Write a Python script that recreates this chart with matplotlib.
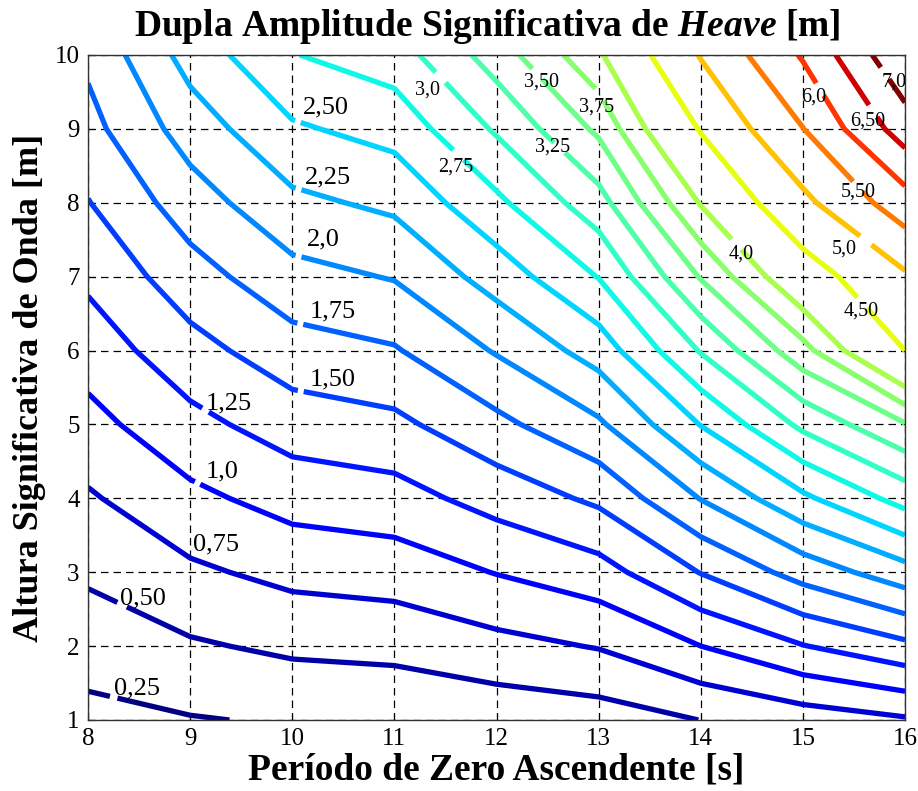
import matplotlib
matplotlib.use("Agg")
import matplotlib.pyplot as plt
import numpy as np
from matplotlib.colors import Normalize

plt.rcParams['font.family'] = ['Liberation Serif', 'DejaVu Serif']
plt.rcParams['mathtext.fontset'] = 'custom'
plt.rcParams['mathtext.it'] = 'Liberation Serif:bold:italic'
plt.rcParams['mathtext.rm'] = 'Liberation Serif:bold'

# periodo de zero ascendente [s] and altura significativa [m]
periodo = [8, 9, 10, 11, 12, 13, 14, 15, 16]
altura = [1, 2, 3, 4, 5, 6, 7, 8, 9, 10]

# dupla amplitude significativa de heave [m], rows = altura, cols = periodo
heave = [
    [0.18, 0.235, 0.274, 0.288, 0.337, 0.38, 0.503, 0.62, 0.72],
    [0.36, 0.47, 0.548, 0.576, 0.674, 0.765, 1.00, 1.24, 1.44],
    [0.54, 0.705, 0.822, 0.864, 1.01, 1.15, 1.51, 1.85, 2.15],
    [0.72, 0.94, 1.096, 1.152, 1.348, 1.55, 2.01, 2.45, 2.85],
    [0.92, 1.175, 1.37, 1.44, 1.685, 1.96, 2.51, 3.06, 3.48],
    [1.11, 1.41, 1.644, 1.728, 2.022, 2.36, 3.02, 3.66, 4.50],
    [1.30, 1.645, 1.918, 2.016, 2.359, 2.76, 3.52, 4.27, 4.93],
    [1.49, 1.88, 2.192, 2.304, 2.696, 3.15, 4.02, 4.88, 5.78],
    [1.67, 2.115, 2.466, 2.592, 3.033, 3.55, 4.53, 5.49, 6.75],
    [1.80, 2.35, 2.74, 2.88, 3.37, 3.95, 5.03, 6.05, 7.45],
]

niveis = [0.25, 0.5, 0.75, 1.0, 1.25, 1.5, 1.75, 2.0, 2.25, 2.5, 2.75, 3.0,
          3.25, 3.5, 3.75, 4.0, 4.5, 5.0, 5.5, 6.0, 6.5, 7.0]

# labels: level, text, gap point on line, text position, font size, gap size
rotulos = [
    (0.25, "0,25", (8.25, 1.30), (8.48, 1.43), 19, 4),
    (0.5, "0,50", (8.32, 2.52), (8.54, 2.64), 19, 6),
    (0.75, "0,75", None, (9.25, 3.38), 19, 0),
    (1.0, "1,0", (9.07, 4.20), (9.31, 4.37), 19, 3),
    (1.25, "1,25", (9.14, 5.17), (9.38, 5.29), 19, 4),
    (1.5, "1,50", (10.08, 5.43), (10.40, 5.61), 19, 3),
    (1.75, "1,75", (10.08, 6.37), (10.40, 6.53), 19, 3),
    (2.0, "2,0", (10.06, 7.27), (10.30, 7.50), 19, 3),
    (2.25, "2,25", (10.06, 8.18), (10.35, 8.34), 19, 3),
    (2.5, "2,50", (10.06, 9.12), (10.33, 9.29), 19, 3),
    (2.75, "2,75", (11.65, 8.68), (11.60, 8.48), 14.5, 9),
    (3.0, "3,0", (11.47, 9.72), (11.32, 9.53), 14.5, 9),
    (3.25, "3,25", (12.60, 8.72), (12.55, 8.75), 14.5, 9),
    (3.5, "3,50", (12.38, 9.72), (12.44, 9.63), 14.5, 9),
    (3.75, "3,75", (13.00, 9.46), (12.98, 9.29), 14.5, 9),
    (4.0, "4,0", (14.32, 7.40), (14.40, 7.30), 14.5, 9),
    (4.5, "4,50", (15.56, 6.62), (15.57, 6.53), 14.5, 9),
    (5.0, "5,0", (15.61, 7.48), (15.40, 7.37), 14.5, 9),
    (5.5, "5,50", (15.58, 8.27), (15.54, 8.15), 14.5, 9),
    (6.0, "6,0", (15.15, 9.52), (15.11, 9.43), 14.5, 9),
    (6.5, "6,50", (15.63, 9.19), (15.63, 9.10), 14.5, 9),
    (7.0, "7,0", (15.78, 9.73), (15.89, 9.64), 14.5, 9),
]

fig = plt.figure(figsize=(9.18, 7.91), dpi=100)
ax = fig.add_axes([0.0959, 0.0898, 0.8900, 0.8407])

T, H = np.meshgrid(periodo, altura)
cs = ax.contour(T, H, np.array(heave), levels=niveis, cmap='jet',
                norm=Normalize(0.25, 7.0), linewidths=3.8)

for lev, txt, gap, pos, fs, gs in rotulos:
    if gap is None:
        ax.text(pos[0], pos[1], txt, fontsize=fs, ha='center', va='center', color='k')
        continue
    labs = ax.clabel(cs, cs.levels, manual=[gap], inline=True, inline_spacing=1,
                     fontsize=gs, colors='k', fmt=lambda v: "00")
    t = labs[-1]
    t.set_text(txt)
    t.set_rotation(0)
    t.set_fontsize(fs)
    t.set_position(pos)
    t.set_ha('center')
    t.set_va('center')

ax.set_xlim(8, 16)
ax.set_ylim(1, 10)
ax.set_xticks(periodo)
ax.set_yticks(altura)
ax.tick_params(direction='in', length=5, labelsize=18, pad=6)
ax.grid(True, color='k', linestyle=(0, (6, 4)), linewidth=0.9)
for s in ax.spines.values():
    s.set_color('#333333')
    s.set_linewidth(1.0)

fig.text(0.5305, 0.966, r"Dupla Amplitude Significativa de $\mathit{Heave}$ [m]",
         fontsize=27, fontweight='bold', ha='center', va='center')
fig.text(0.541, 0.026, "Período de Zero Ascendente [s]", fontsize=27,
         fontweight='bold', ha='center', va='center')
fig.text(0.032, 0.509, "Altura Significativa de Onda [m]", fontsize=26,
         fontweight='bold', ha='center', va='center', rotation=90)

fig.savefig("out.png", dpi=100)
